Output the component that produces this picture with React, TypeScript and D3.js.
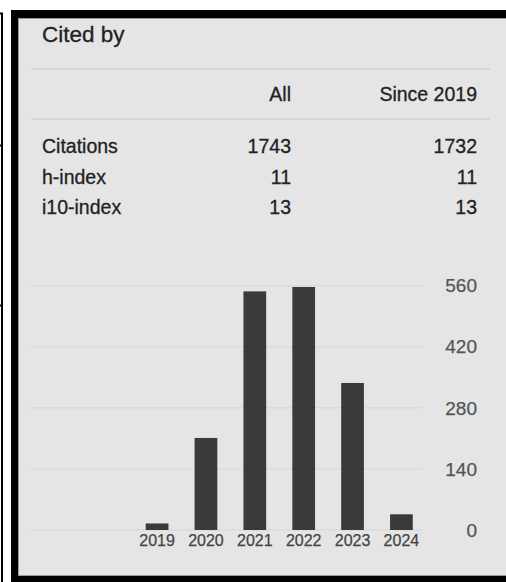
import React from "react";
import * as d3 from "d3";

// citation summary
const columnHeaders = ["All", "Since 2019"];
const statLabels = ["Citations", "h-index", "i10-index"];
const statAll = [1743, 11, 13];
const statSince = [1732, 11, 13];

// citations per year
const years = ["2019", "2020", "2021", "2022", "2023", "2024"];
const citations = [15, 211, 547, 557, 337, 36];
const yTicks = [0, 140, 280, 420, 560];

const W = 506;
const H = 582;
const FONT = "'Liberation Sans', Arial, sans-serif";

export default function App() {
    const x = d3
        .scaleBand<string>()
        .domain(years)
        .range([133.5, 425])
        .paddingInner(0.535)
        .paddingOuter(0.25);

    const y = d3.scaleLinear().domain([0, 560]).range([530, 285.7]);

    const rowY = d3.scaleLinear().domain([0, 1]).range([153, 183.5]);

    return (
        <svg
            width={W}
            height={H}
            style={{ position: "absolute", left: 0, top: 0, display: "block" }}
            fontFamily={FONT}
        >
            <rect width={W} height={H} fill="#fff" />

            {/* cropped frame on the far left */}
            <path d="M0,13.5 H2 V582" fill="none" stroke="#000" strokeWidth={2} />
            <line x1={0} x2={2} y1={145.5} y2={145.5} stroke="#000" strokeWidth={2} />
            <line x1={0} x2={2} y1={305.5} y2={305.5} stroke="#000" strokeWidth={2} />

            {/* panel with thick border */}
            <rect x={11} y={10} width={W - 11} height={H - 10} fill="#000" />
            <rect x={18} y={18} width={W - 18} height={558} fill="#9a9a9a" />
            <rect x={19} y={19} width={W - 19} height={556} fill="#e5e5e5" />

            <text x={42} y={42} fontSize={22.5} fill="#222" stroke="#222" strokeWidth={0.3}>
                Cited by
            </text>

            <line x1={31} x2={490} y1={69} y2={69} stroke="#d2d2d2" strokeWidth={1.5} />
            <line x1={31} x2={490} y1={119} y2={119} stroke="#d2d2d2" strokeWidth={1.5} />

            <g fontSize={19.5} fill="#222" stroke="#222" strokeWidth={0.3}>
                <text x={291} y={101} textAnchor="end">
                    {columnHeaders[0]}
                </text>
                <text x={477} y={101} textAnchor="end">
                    {columnHeaders[1]}
                </text>
                {statLabels.map((lab, i) => (
                    <g key={lab}>
                        <text x={42} y={rowY(i)}>
                            {lab}
                        </text>
                        <text x={291} y={rowY(i)} textAnchor="end">
                            {statAll[i]}
                        </text>
                        <text x={477} y={rowY(i)} textAnchor="end">
                            {statSince[i]}
                        </text>
                    </g>
                ))}
            </g>

            {/* gridlines + right axis labels */}
            {yTicks.map(t => (
                <g key={t}>
                    <line x1={31} x2={422} y1={y(t)} y2={y(t)} stroke="#dadada" strokeWidth={1.5} />
                    <text
                        x={477}
                        y={y(t)}
                        dy="0.35em"
                        textAnchor="end"
                        fontSize={19}
                        fill="#555"
                        stroke="#555"
                        strokeWidth={0.25}
                    >
                        {t}
                    </text>
                </g>
            ))}

            {years.map((yr, i) => (
                <g key={yr}>
                    <rect
                        x={x(yr)}
                        y={y(citations[i])}
                        width={x.bandwidth()}
                        height={y(0) - y(citations[i])}
                        fill="#3a3a3a"
                    />
                    <text
                        x={(x(yr) || 0) + x.bandwidth() / 2}
                        y={546}
                        textAnchor="middle"
                        fontSize={16}
                        fill="#444"
                        stroke="#444"
                        strokeWidth={0.25}
                    >
                        {yr}
                    </text>
                </g>
            ))}
        </svg>
    );
}
